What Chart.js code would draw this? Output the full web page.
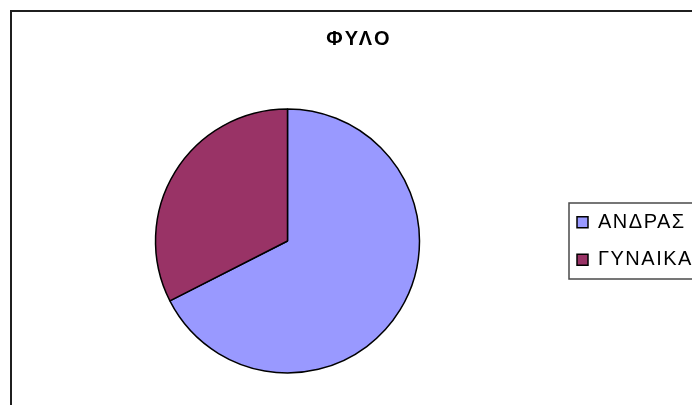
<!DOCTYPE html>
<html>
<head>
<meta charset="utf-8">
<script src="https://cdn.jsdelivr.net/npm/chart.js@4/dist/chart.umd.min.js"></script>
<style>
html,body{margin:0;padding:0;background:#fff;}
canvas{display:block;}
</style>
</head>
<body>
<canvas id="c" width="692" height="405"></canvas>
<script>
const chartTitle = 'ΦΥΛΟ';
const categories = ['ΑΝΔΡΑΣ', 'ΓΥΝΑΙΚΑ'];
const values = [67.5, 32.5];
const sliceColors = ['#9999FF', '#993366'];

const TITLE_LS = '2.5px';
const LEGEND_LS = '1.5px';
const CHART_RIGHT = 559.5;

const decorPlugin = {
  id: 'decor',
  beforeLayout(chart) {
    chart.ctx.letterSpacing = LEGEND_LS;
  },
  beforeDraw(chart) {
    const ctx = chart.ctx;
    ctx.letterSpacing = LEGEND_LS;
    const tb = chart.titleBlock;
    if (tb && !tb._wrapped) {
      const orig = tb.draw.bind(tb);
      tb.draw = function () {
        const c = this.ctx;
        const old = c.letterSpacing;
        c.letterSpacing = TITLE_LS;
        orig();
        c.letterSpacing = old;
      };
      tb._wrapped = true;
    }
    ctx.save();
    ctx.strokeStyle = '#1f1f1f';
    ctx.lineWidth = 2;
    ctx.strokeRect(11, 11, 720, 440);
    ctx.restore();
  },
  afterDraw(chart) {
    const lg = chart.legend;
    if (!lg || !lg.legendHitBoxes || !lg.legendHitBoxes.length) return;
    const hb = lg.legendHitBoxes;
    const top = hb[0].top;
    const bottom = hb[hb.length - 1].top + hb[hb.length - 1].height;
    const mid = (top + bottom) / 2;
    const ctx = chart.ctx;
    ctx.save();
    ctx.strokeStyle = '#4a4a4a';
    ctx.lineWidth = 1.5;
    ctx.strokeRect(lg.left + 9.5, mid - 38, 300, 76);
    ctx.restore();
  }
};

const chart = new Chart(document.getElementById('c'), {
  type: 'pie',
  data: {
    labels: categories,
    datasets: [{
      data: values,
      backgroundColor: sliceColors,
      borderColor: '#000000',
      borderWidth: 1.5,
      hoverOffset: 0,
      offset: 0
    }]
  },
  options: {
    responsive: false,
    devicePixelRatio: 1,
    animation: false,
    events: [],
    layout: { padding: { left: 15.5, right: 0, top: 0, bottom: 31.25 } },
    plugins: {
      title: {
        display: true,
        text: chartTitle,
        color: '#000000',
        font: { family: "'Liberation Sans', Arial, sans-serif", size: 20, weight: 'bold', lineHeight: 1.2 },
        padding: { top: 27, bottom: 57.25 }
      },
      legend: {
        display: true,
        position: 'right',
        align: 'center',
        fullSize: false,
        labels: {
          color: '#000000',
          font: { family: "'Liberation Sans', Arial, sans-serif", size: 20 },
          boxWidth: 11,
          boxHeight: 11,
          padding: 17.5
        }
      },
      tooltip: { enabled: false }
    }
  },
  plugins: [decorPlugin]
});

const lw = chart.legend.width;
chart.options.layout.padding.right = 692 - CHART_RIGHT - lw;
chart.update();
</script>
</body>
</html>
